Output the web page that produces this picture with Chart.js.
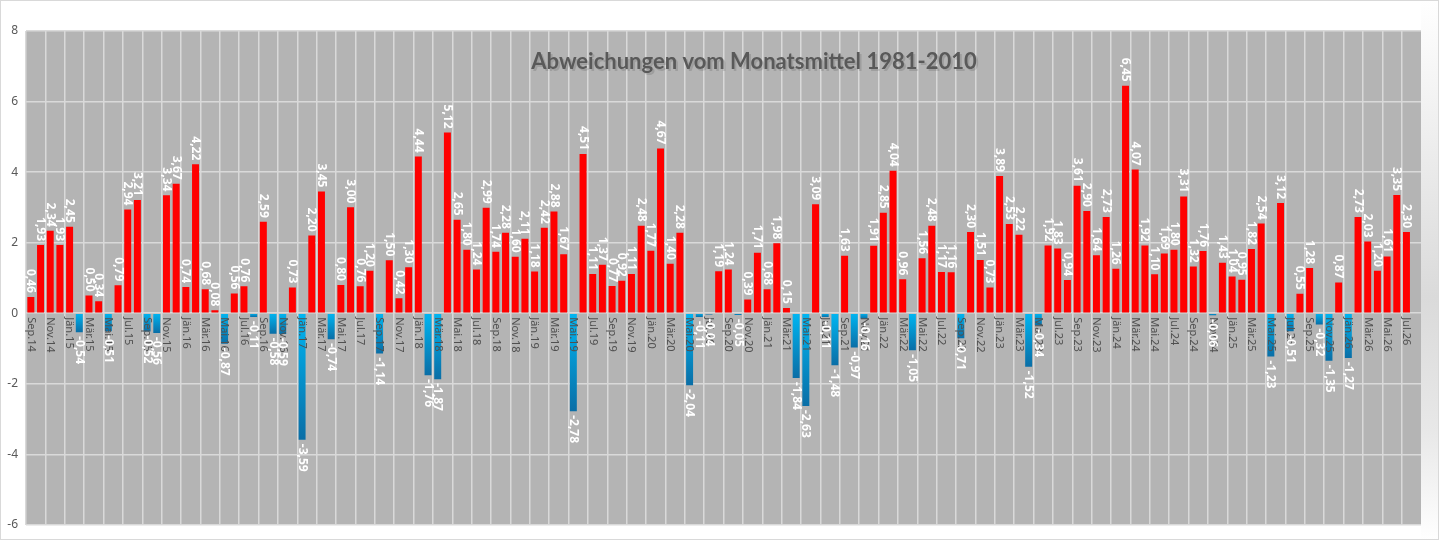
<!DOCTYPE html>
<html lang="de">
<head>
<meta charset="utf-8">
<title>Abweichungen vom Monatsmittel 1981-2010</title>
<script src="https://cdn.jsdelivr.net/npm/chart.js@4.4.1/dist/chart.umd.min.js"></script>
<style>
  html, body { margin: 0; padding: 0; background: #fff; }
  #wrap { width: 1439px; height: 540px; position: relative; }
</style>
</head>
<body>
<div id="wrap"><canvas id="chart"></canvas></div>
<script>
// Monatsnamen (österreichisch) und Startmonat Sep 2014, 144 Kategorien bis Aug 2026
const monthNames = ['Jän', 'Feb', 'Mär', 'Apr', 'Mai', 'Jun', 'Jul', 'Aug', 'Sep', 'Okt', 'Nov', 'Dez'];
const startYear = 2014;
const startMonth = 8; // Sep
const monthCount = 144;

const categories = [];
for (let i = 0; i < monthCount; i++) {
    const m = (startMonth + i) % 12;
    const yr = startYear + Math.floor((startMonth + i) / 12);
    categories.push(monthNames[m] + '.' + String(yr).slice(2));
}

// Abweichungen in °C
const anomalies = [
    0.46, 1.93, 2.34, 1.93,                                                // 2014
    2.45, -0.54, 0.50, 0.34, -0.51, 0.79, 2.94, 3.21, -0.52, -0.56, 3.34, 3.67, // 2015
    0.74, 4.22, 0.68, 0.08, -0.87, 0.56, 0.76, -0.11, 2.59, -0.58, -0.59, 0.73, // 2016
    -3.59, 2.20, 3.45, -0.74, 0.80, 3.00, 0.76, 1.20, -1.14, 1.50, 0.42, 1.30,  // 2017
    4.44, -1.76, -1.87, 5.12, 2.65, 1.80, 1.24, 2.99, 1.74, 2.28, 1.60, 2.11,   // 2018
    1.18, 2.42, 2.88, 1.67, -2.78, 4.51, 1.11, 1.37, 0.77, 0.92, 1.11, 2.48,    // 2019
    1.77, 4.67, 1.40, 2.28, -2.04, -0.11, -0.04, 1.19, 1.24, -0.05, 0.39, 1.71, // 2020
    0.68, 1.98, 0.15, -1.84, -2.63, 3.09, -0.11, -1.48, 1.63, -0.97, -0.16, 1.91, // 2021
    2.85, 4.04, 0.96, -1.05, 1.56, 2.48, 1.17, 1.16, -0.71, 2.30, 1.51, 0.73,   // 2022
    3.89, 2.53, 2.22, -1.52, -0.34, 1.92, 1.83, 0.94, 3.61, 2.90, 1.64, 2.73,   // 2023
    1.26, 6.45, 4.07, 1.92, 1.10, 1.69, 1.80, 3.31, 1.32, 1.76, -0.06, 1.43,    // 2024
    1.04, 0.95, 1.82, 2.54, -1.23, 3.12, -0.51, 0.55, 1.28, -0.32, -1.35, 0.87, // 2025
    -1.27, 2.73, 2.03, 1.20, 1.61, 3.35, 2.30, null                              // 2026
];

// Achsenwerte
const yMin = -6;
const yMax = 8;
const yStep = 2;
const labelStep = 2; // nur jeden zweiten Monat beschriften

const chartTitle = 'Abweichungen vom Monatsmittel 1981-2010';

// Farbe: rot für positive, blauer Verlauf für negative Werte
function barColor(context) {
    const v = context.raw;
    if (v === null || v >= 0) return '#ff0000';
    const chart = context.chart;
    if (!chart.chartArea || !chart.scales.y) return '#00b0f0';
    const y = chart.scales.y;
    const g = chart.ctx.createLinearGradient(0, y.getPixelForValue(0), 0, y.getPixelForValue(v));
    g.addColorStop(0, '#00b6f2');
    g.addColorStop(1, '#0a6ea6');
    return g;
}

// Hintergrund von Zeichenfläche und Rand
const plotBackground = {
    id: 'plotBackground',
    beforeDraw(chart) {
        const { ctx, chartArea: a, width, height } = chart;
        ctx.save();
        ctx.fillStyle = '#ffffff';
        ctx.fillRect(0, 0, width, height);
        const side = ctx.createLinearGradient(0, 0, 0, height);
        side.addColorStop(0, '#ffffff');
        side.addColorStop(0.55, '#dadada');
        side.addColorStop(0.8, '#e8e8e8');
        side.addColorStop(1, '#ffffff');
        ctx.fillStyle = side;
        ctx.fillRect(a.right, 0, width - a.right, height);
        ctx.fillStyle = '#b4b4b4';
        ctx.fillRect(a.left, a.top, a.right - a.left, a.bottom - a.top);
        ctx.strokeStyle = '#d9d9d9';
        ctx.lineWidth = 1;
        ctx.strokeRect(0.5, 0.5, width - 1, height - 1);
        ctx.restore();
    }
};

// Monatsbeschriftung direkt an der Nulllinie, um 90° gedreht
const monthLabels = {
    id: 'monthLabels',
    afterDatasetsDraw(chart) {
        const { ctx, scales: { x, y } } = chart;
        const y0 = y.getPixelForValue(0);
        ctx.save();
        ctx.font = '11px "Noto Sans"';
        ctx.fillStyle = '#505050';
        ctx.textAlign = 'left';
        ctx.textBaseline = 'middle';
        categories.forEach((label, i) => {
            if (i % labelStep !== 0) return;
            ctx.save();
            ctx.translate(x.getPixelForValue(i), y0 + 4);
            ctx.rotate(Math.PI / 2);
            ctx.fillText(label, 0, 0);
            ctx.restore();
        });
        ctx.restore();
    }
};

// Datenbeschriftung über bzw. unter den Balken
const valueLabels = {
    id: 'valueLabels',
    afterDatasetsDraw(chart) {
        const { ctx } = chart;
        const meta = chart.getDatasetMeta(0);
        ctx.save();
        ctx.font = 'bold 12px "Noto Sans"';
        ctx.fillStyle = '#ffffff';
        ctx.textBaseline = 'middle';
        meta.data.forEach((bar, i) => {
            const v = anomalies[i];
            if (v === null || v === undefined) return;
            const text = v.toFixed(2).replace('.', ',');
            ctx.save();
            if (v >= 0) {
                ctx.translate(bar.x, bar.y - 4);
                ctx.rotate(Math.PI / 2);
                ctx.textAlign = 'right';
            } else {
                ctx.translate(bar.x, bar.y + 4);
                ctx.rotate(Math.PI / 2);
                ctx.textAlign = 'left';
            }
            ctx.fillText(text, 0, 0);
            ctx.restore();
        });
        ctx.restore();
    }
};

// Titel innerhalb der Zeichenfläche
const titleInside = {
    id: 'titleInside',
    afterDraw(chart) {
        const { ctx } = chart;
        ctx.save();
        ctx.font = 'bold 22px Lato';
        ctx.textAlign = 'center';
        ctx.textBaseline = 'middle';
        ctx.fillStyle = 'rgba(0,0,0,0.12)';
        ctx.fillText(chartTitle, 756, 64);
        ctx.fillStyle = '#595959';
        ctx.fillText(chartTitle, 754, 62);
        ctx.restore();
    }
};

new Chart(document.getElementById('chart'), {
    type: 'bar',
    data: {
        labels: categories,
        datasets: [{
            data: anomalies,
            backgroundColor: barColor,
            barPercentage: 0.72,
            categoryPercentage: 1.0
        }]
    },
    options: {
        responsive: true,
        maintainAspectRatio: false,
        animation: false,
        layout: {
            padding: { left: 0, top: 31, right: 18, bottom: 11 }
        },
        plugins: {
            legend: { display: false },
            tooltip: { enabled: false }
        },
        scales: {
            x: {
                grid: {
                    color: (c) => (c.index % labelStep === 0 ? '#d9d9d9' : 'rgba(0,0,0,0)'),
                    lineWidth: 1.5,
                    drawTicks: false
                },
                border: { display: false },
                ticks: { display: false }
            },
            y: {
                min: yMin,
                max: yMax,
                ticks: {
                    stepSize: yStep,
                    color: '#595959',
                    font: { size: 12, family: 'Noto Sans' },
                    padding: 8
                },
                grid: {
                    color: '#d9d9d9',
                    lineWidth: 1.5,
                    drawTicks: false
                },
                border: { display: false },
                afterFit(scale) {
                    scale.width = 26;
                }
            }
        }
    },
    plugins: [plotBackground, monthLabels, valueLabels, titleInside]
});
</script>
</body>
</html>
